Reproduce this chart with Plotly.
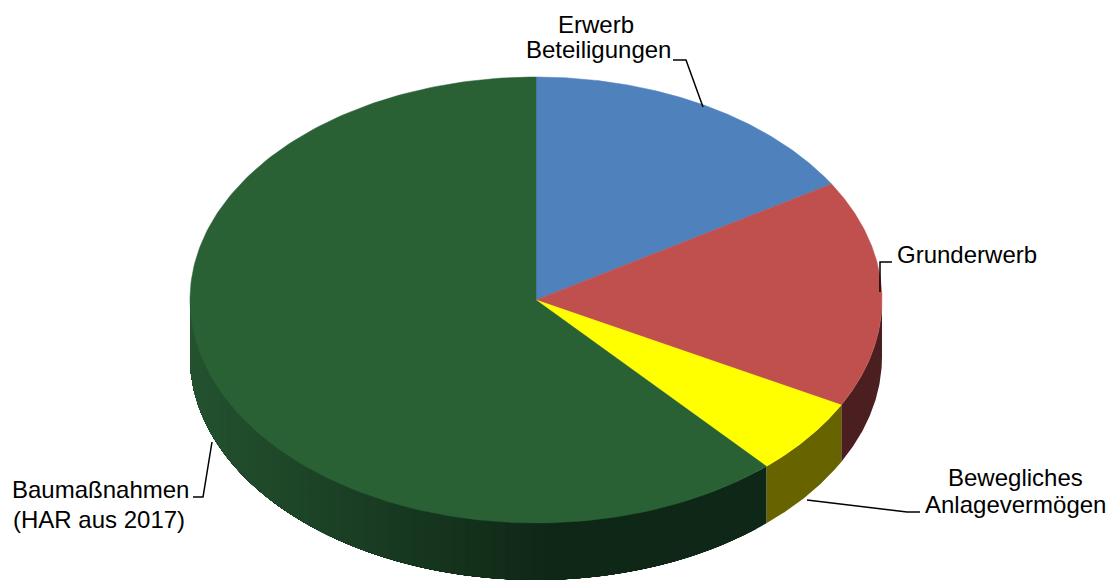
import numpy as np
import plotly.graph_objects as go

# ---- data ----
labels = ["Erwerb Beteiligungen", "Grunderwerb", "Bewegliches Anlagevermögen", "Baumaßnahmen (HAR aus 2017)"]
values = [16.3, 16.5, 5.6, 61.6]

# ---- style ----
top_colors = ["#4f81bd", "#c0504d", "#ffff00", "#296135"]
side_colors = ["#27405e", "#4b1f1f", "#676400", None]  # None -> gradient
grad_left, grad_right = np.array([0x24, 0x53, 0x30]), np.array([0x0f, 0x27, 0x16])

W, H = 1111, 582
cx, cy, rx, ry, depth = 536, 300, 346, 223, 57


def pt(theta_deg, dy=0.0):
    t = np.radians(theta_deg)
    return cx + rx * np.sin(t), cy - ry * np.cos(t) + dy


def side_poly(a0, a1, n=120):
    th = np.linspace(a0, a1, n)
    xs_t, ys_t = pt(th)
    xs = np.concatenate([xs_t, xs_t[::-1]])
    ys = np.concatenate([ys_t, (ys_t + depth)[::-1]])
    return xs, ys


fig = go.Figure()
total = sum(values)
bounds = np.concatenate([[0], np.cumsum(values) / total * 360])

# side walls (front half: 90..270 deg clockwise from top)
for i in range(len(values)):
    a0, a1 = max(bounds[i], 90), min(bounds[i + 1], 270)
    if a1 <= a0:
        continue
    if side_colors[i] is not None:
        xs, ys = side_poly(a0, a1)
        fig.add_trace(go.Scatter(x=xs, y=ys, fill="toself", mode="lines",
                                 line=dict(width=0, color=side_colors[i]),
                                 fillcolor=side_colors[i], hoverinfo="skip", showlegend=False))
    else:
        # layered gradient: each layer spans from its start angle to the far end
        starts = np.linspace(a0, a1, 60)[:-1]
        for s in starts:
            xs_s, _ = pt(s)
            f = np.clip((xs_s - 190) / (560 - 190), 0, 1)
            c = grad_left + (grad_right - grad_left) * f
            col = "rgb(%d,%d,%d)" % tuple(c.astype(int))
            xs, ys = side_poly(s, a1)
            fig.add_trace(go.Scatter(x=xs, y=ys, fill="toself", mode="lines",
                                     line=dict(width=0, color=col),
                                     fillcolor=col, hoverinfo="skip", showlegend=False))

# top faces
for i in range(len(values)):
    th = np.linspace(bounds[i], bounds[i + 1], 200)
    xs_t, ys_t = pt(th)
    xs = np.concatenate([[cx], xs_t, [cx]])
    ys = np.concatenate([[cy], ys_t, [cy]])
    fig.add_trace(go.Scatter(x=xs, y=ys, fill="toself", mode="lines",
                             line=dict(width=0.5, color=top_colors[i]),
                             fillcolor=top_colors[i], name=labels[i],
                             hoverinfo="name", showlegend=False))

# labels (one annotation per line)
font = dict(family="Liberation Sans, Arial, sans-serif", size=24, color="#000000")
label_lines = [
    ("Erwerb", 596, 24), ("Beteiligungen", 598, 49),
    ("Grunderwerb", 967, 254),
    ("Bewegliches", 1015, 477), ("Anlagevermögen", 1015, 504),
    ("Baumaßnahmen", 100, 489), ("(HAR aus 2017)", 99, 519),
]
for txt, x, y in label_lines:
    fig.add_annotation(x=x, y=y, text=txt, showarrow=False, font=font,
                       xanchor="center", yanchor="middle", xref="x", yref="y")

# leader lines
leaders = [
    [(673, 60), (686, 60), (703, 107)],
    [(892, 262), (880, 262), (880, 292)],
    [(920, 512), (907, 512), (807, 500)],
    [(193, 497), (203, 497), (212, 442)],
]
for pts in leaders:
    xs, ys = zip(*pts)
    fig.add_trace(go.Scatter(x=xs, y=ys, mode="lines", line=dict(color="#000000", width=1.5),
                             hoverinfo="skip", showlegend=False))

fig.update_layout(
    width=W, height=H, margin=dict(l=0, r=0, t=0, b=0),
    paper_bgcolor="white", plot_bgcolor="white",
    xaxis=dict(range=[0, W], visible=False, fixedrange=True),
    yaxis=dict(range=[H, 0], visible=False, fixedrange=True),
)
fig.write_html("out.html", config={"displayModeBar": False},
               post_script="document.body.style.margin='0';document.body.style.overflow='hidden';")
